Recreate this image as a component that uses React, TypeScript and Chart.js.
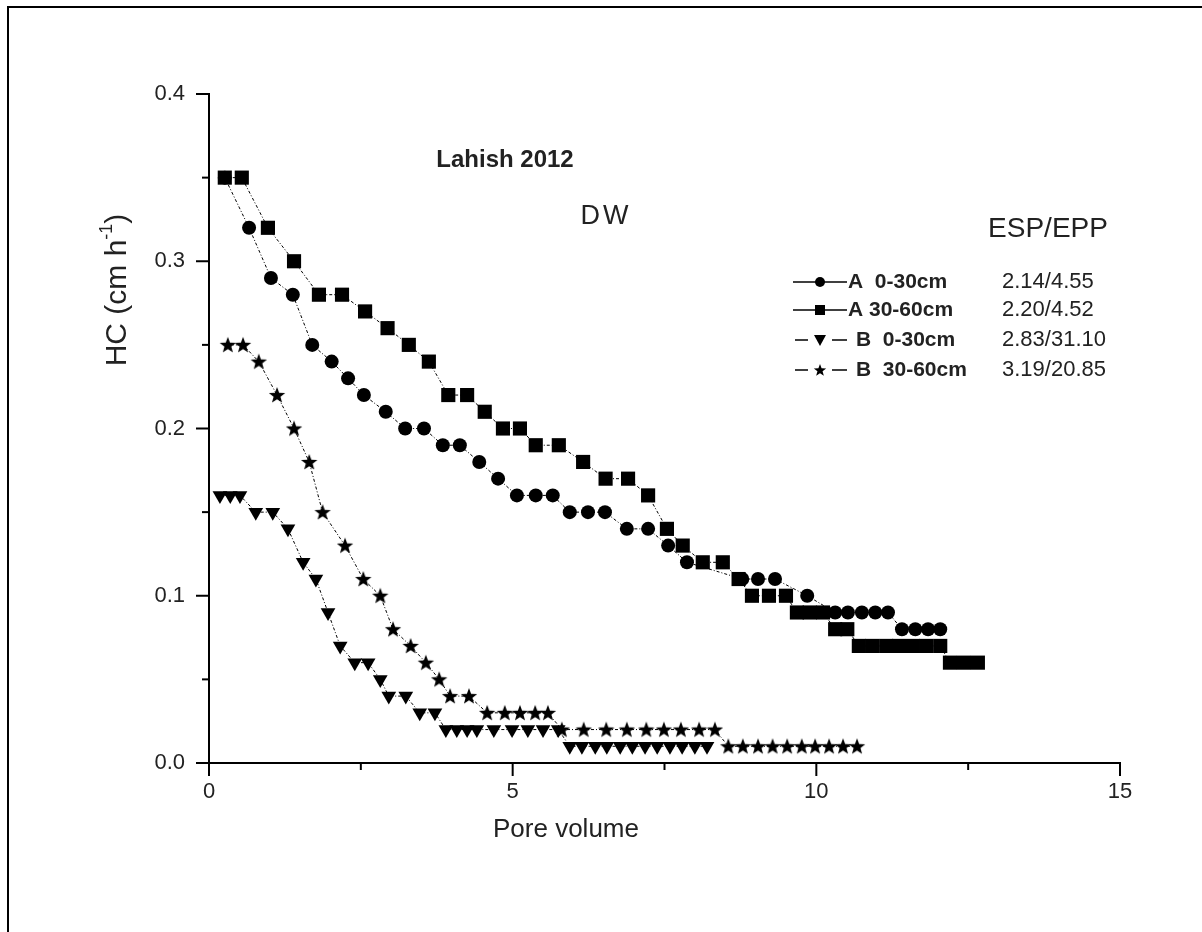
import React, { useEffect, useRef } from "react";
import { Chart, registerables } from "chart.js";

Chart.register(...registerables);

// ---- Data ----
const aTopX = [0.26, 0.66, 1.02, 1.38, 1.70, 2.02, 2.29, 2.55, 2.91, 3.23, 3.54, 3.85, 4.13, 4.45, 4.76, 5.07, 5.38, 5.66, 5.94, 6.24, 6.52, 6.88, 7.23, 7.56, 7.87, 8.78, 9.04, 9.32, 9.85, 10.31, 10.52, 10.75, 10.97, 11.18, 11.41, 11.63, 11.84, 12.04];
const aTopY = [0.35, 0.32, 0.29, 0.28, 0.25, 0.24, 0.23, 0.22, 0.21, 0.20, 0.20, 0.19, 0.19, 0.18, 0.17, 0.16, 0.16, 0.16, 0.15, 0.15, 0.15, 0.14, 0.14, 0.13, 0.12, 0.11, 0.11, 0.11, 0.10, 0.09, 0.09, 0.09, 0.09, 0.09, 0.08, 0.08, 0.08, 0.08];

const aSubX = [0.26, 0.54, 0.97, 1.40, 1.81, 2.19, 2.57, 2.94, 3.29, 3.62, 3.94, 4.25, 4.54, 4.84, 5.12, 5.38, 5.76, 6.16, 6.53, 6.90, 7.23, 7.54, 7.80, 8.13, 8.46, 8.72, 8.94, 9.22, 9.50, 9.68, 9.89, 10.11, 10.31, 10.51, 10.70, 10.92, 11.15, 11.36, 11.59, 11.81, 12.04, 12.20, 12.43, 12.66];
const aSubY = [0.35, 0.35, 0.32, 0.30, 0.28, 0.28, 0.27, 0.26, 0.25, 0.24, 0.22, 0.22, 0.21, 0.20, 0.20, 0.19, 0.19, 0.18, 0.17, 0.17, 0.16, 0.14, 0.13, 0.12, 0.12, 0.11, 0.10, 0.10, 0.10, 0.09, 0.09, 0.09, 0.08, 0.08, 0.07, 0.07, 0.07, 0.07, 0.07, 0.07, 0.07, 0.06, 0.06, 0.06];

const bTopX = [0.18, 0.35, 0.51, 0.77, 1.05, 1.30, 1.55, 1.76, 1.96, 2.16, 2.40, 2.62, 2.82, 2.96, 3.24, 3.47, 3.72, 3.90, 4.08, 4.25, 4.41, 4.69, 4.99, 5.25, 5.50, 5.75, 5.94, 6.14, 6.36, 6.55, 6.77, 6.97, 7.18, 7.38, 7.59, 7.79, 8.00, 8.20];
const bTopY = [0.16, 0.16, 0.16, 0.15, 0.15, 0.14, 0.12, 0.11, 0.09, 0.07, 0.06, 0.06, 0.05, 0.04, 0.04, 0.03, 0.03, 0.02, 0.02, 0.02, 0.02, 0.02, 0.02, 0.02, 0.02, 0.02, 0.01, 0.01, 0.01, 0.01, 0.01, 0.01, 0.01, 0.01, 0.01, 0.01, 0.01, 0.01];

const bSubX = [0.31, 0.56, 0.82, 1.12, 1.40, 1.65, 1.87, 2.24, 2.54, 2.82, 3.03, 3.32, 3.57, 3.79, 3.97, 4.28, 4.58, 4.87, 5.12, 5.37, 5.58, 5.81, 6.17, 6.54, 6.88, 7.20, 7.49, 7.77, 8.07, 8.33, 8.55, 8.79, 9.04, 9.28, 9.52, 9.76, 9.98, 10.21, 10.44, 10.67];
const bSubY = [0.25, 0.25, 0.24, 0.22, 0.20, 0.18, 0.15, 0.13, 0.11, 0.10, 0.08, 0.07, 0.06, 0.05, 0.04, 0.04, 0.03, 0.03, 0.03, 0.03, 0.03, 0.02, 0.02, 0.02, 0.02, 0.02, 0.02, 0.02, 0.02, 0.02, 0.01, 0.01, 0.01, 0.01, 0.01, 0.01, 0.01, 0.01, 0.01, 0.01];

const seriesLabels = ["A  0-30cm", "A 30-60cm", "B  0-30cm", "B  30-60cm"];
const seriesValues = ["2.14/4.55", "2.20/4.52", "2.83/31.10", "3.19/20.85"];
const xTickValues = [0, 5, 10, 15];
const yTickValues = [0, 0.1, 0.2, 0.3, 0.4];
const titleText = "Lahish 2012";
const subtitleText = "DW";
const legendHeader = "ESP/EPP";
const xTitle = "Pore volume";
const yTitleMain = "HC (cm h";
const yTitleSup = "-1";
const yTitleEnd = ")";

const FONT = "'Liberation Sans', Arial, sans-serif";
const TEXT = "#222";

function pts(xs: number[], ys: number[]) {
  return xs.map((x, i) => ({ x, y: ys[i] }));
}

function starPath(ctx: CanvasRenderingContext2D, cx: number, cy: number, ro: number, ri: number) {
  ctx.beginPath();
  for (let i = 0; i < 10; i++) {
    const r = i % 2 === 0 ? ro : ri;
    const a = -Math.PI / 2 + (i * Math.PI) / 5;
    const px = cx + r * Math.cos(a);
    const py = cy + r * Math.sin(a);
    if (i === 0) ctx.moveTo(px, py);
    else ctx.lineTo(px, py);
  }
  ctx.closePath();
}

function makeStar(): HTMLCanvasElement {
  const c = document.createElement("canvas");
  c.width = 18;
  c.height = 18;
  const g = c.getContext("2d")!;
  g.fillStyle = "#000";
  starPath(g, 9, 9.6, 8.6, 3.6);
  g.fill();
  return c;
}

function drawLegendMarker(ctx: CanvasRenderingContext2D, kind: number, x: number, y: number) {
  ctx.fillStyle = "#000";
  ctx.beginPath();
  if (kind === 0) {
    ctx.arc(x, y, 5, 0, Math.PI * 2);
    ctx.fill();
  } else if (kind === 1) {
    ctx.fillRect(x - 5, y - 5, 10, 10);
  } else if (kind === 2) {
    ctx.moveTo(x - 6, y - 5);
    ctx.lineTo(x + 6, y - 5);
    ctx.lineTo(x, y + 6);
    ctx.closePath();
    ctx.fill();
  } else {
    starPath(ctx, x, y + 0.5, 6.5, 2.7);
    ctx.fill();
  }
}

const decorPlugin = {
  id: "decor",
  afterDraw(chart: any) {
    const { ctx } = chart;
    const xs = chart.scales.x;
    const ys = chart.scales.y;
    ctx.save();
    // frame (top & left only visible in reference)
    ctx.strokeStyle = "#000";
    ctx.lineWidth = 2;
    ctx.beginPath();
    ctx.moveTo(8, 940);
    ctx.lineTo(8, 7);
    ctx.lineTo(1210, 7);
    ctx.stroke();

    // tick marks: major & minor
    ctx.lineWidth = 2;
    const x0 = xs.left;
    const yb = ys.bottom;
    for (let v = 0; v <= 0.4001; v += 0.05) {
      const p = ys.getPixelForValue(v);
      const major = Math.abs(Math.round(v * 10) - v * 10) < 1e-6;
      const len = major ? 13 : 7;
      ctx.beginPath();
      ctx.moveTo(x0 - len, p);
      ctx.lineTo(x0, p);
      ctx.stroke();
    }
    for (let v = 0; v <= 15.001; v += 2.5) {
      const p = xs.getPixelForValue(v);
      const major = Math.abs(v % 5) < 1e-6;
      const len = major ? 13 : 7;
      ctx.beginPath();
      ctx.moveTo(p, yb);
      ctx.lineTo(p, yb + len);
      ctx.stroke();
    }

    ctx.fillStyle = TEXT;
    ctx.textBaseline = "middle";
    // title texts
    ctx.textAlign = "center";
    ctx.font = `bold 24px ${FONT}`;
    ctx.fillText(titleText, 505, 160);
    ctx.font = `27px ${FONT}`;
    (ctx as any).letterSpacing = "3px";
    ctx.fillText(subtitleText, 606, 217);
    (ctx as any).letterSpacing = "0px";
    ctx.font = `28px ${FONT}`;
    ctx.fillText(legendHeader, 1048, 229);

    // legend
    const rowsY = [282, 310, 340, 370];
    const textX = [848, 848, 856, 856];
    for (let i = 0; i < 4; i++) {
      const y = rowsY[i];
      ctx.strokeStyle = "#000";
      ctx.lineWidth = 1.5;
      ctx.beginPath();
      if (i < 2) {
        ctx.moveTo(793, y);
        ctx.lineTo(847, y);
      } else {
        ctx.moveTo(795, y);
        ctx.lineTo(808, y);
        ctx.moveTo(832, y);
        ctx.lineTo(847, y);
      }
      ctx.stroke();
      drawLegendMarker(ctx, i, 820, y);
      ctx.fillStyle = TEXT;
      ctx.textAlign = "left";
      ctx.font = `bold 21px ${FONT}`;
      ctx.fillText(seriesLabels[i], textX[i], y);
      ctx.font = `22px ${FONT}`;
      ctx.fillText(seriesValues[i], 1002, y);
    }

    // x title
    ctx.textAlign = "center";
    ctx.font = `26px ${FONT}`;
    ctx.fillText(xTitle, 566, 830);

    // y title (rotated with superscript)
    ctx.save();
    ctx.translate(118, 290);
    ctx.rotate(-Math.PI / 2);
    ctx.textAlign = "left";
    ctx.font = `30px ${FONT}`;
    const w1 = ctx.measureText(yTitleMain).width;
    ctx.font = `18px ${FONT}`;
    const w2 = ctx.measureText(yTitleSup).width;
    ctx.font = `30px ${FONT}`;
    const w3 = ctx.measureText(yTitleEnd).width;
    const total = w1 + w2 + w3;
    let cx = -total / 2;
    ctx.fillText(yTitleMain, cx, 0);
    cx += w1;
    ctx.font = `18px ${FONT}`;
    ctx.fillText(yTitleSup, cx, -11);
    cx += w2;
    ctx.font = `30px ${FONT}`;
    ctx.fillText(yTitleEnd, cx, 0);
    ctx.restore();

    ctx.restore();
  },
};

export default function App() {
  const ref = useRef<HTMLCanvasElement | null>(null);

  useEffect(() => {
    document.body.style.margin = "0";
    document.body.style.overflow = "hidden";
    const canvas = ref.current!;
    const star = makeStar();
    const lineCommon = {
      showLine: true,
      borderColor: "#000",
      borderWidth: 1,
      borderDash: [3, 2, 1, 2],
      backgroundColor: "#000",
      pointBackgroundColor: "#000",
      pointBorderColor: "#000",
      pointBorderWidth: 0,
      tension: 0,
      fill: false,
    };
    const chart = new Chart(canvas, {
      type: "scatter",
      data: {
        datasets: [
          { ...lineCommon, label: seriesLabels[0], data: pts(aTopX, aTopY), pointStyle: "circle", pointRadius: 7, order: 1 },
          { ...lineCommon, label: seriesLabels[1], data: pts(aSubX, aSubY), pointStyle: "rect", pointRadius: 10, order: 0 },
          { ...lineCommon, label: seriesLabels[2], data: pts(bTopX, bTopY), pointStyle: "triangle", pointRotation: 180, pointRadius: 8.5, order: 3 },
          { ...lineCommon, label: seriesLabels[3], data: pts(bSubX, bSubY), pointStyle: star as any, pointRadius: 9, order: 2 },
        ],
      },
      options: {
        responsive: false,
        animation: false,
        events: [],
        layout: { padding: { left: 0, top: 94, right: 82, bottom: 0 } },
        plugins: { legend: { display: false }, tooltip: { enabled: false }, title: { display: false } },
        scales: {
          x: {
            type: "linear",
            min: 0,
            max: 15,
            afterFit: (s: any) => {
              s.height = 169;
            },
            afterBuildTicks: (s: any) => {
              s.ticks = xTickValues.map((v) => ({ value: v }));
            },
            ticks: { font: { family: FONT, size: 22 }, color: TEXT, padding: 16, maxRotation: 0, callback: (v: any) => String(v) },
            grid: { display: false, drawTicks: false },
            border: { display: true, color: "#000", width: 2 },
          },
          y: {
            min: 0,
            max: 0.4,
            afterFit: (s: any) => {
              s.width = 209;
            },
            afterBuildTicks: (s: any) => {
              s.ticks = yTickValues.map((v) => ({ value: v }));
            },
            ticks: { font: { family: FONT, size: 22 }, color: TEXT, padding: 24, callback: (v: any) => Number(v).toFixed(1) },
            grid: { display: false, drawTicks: false },
            border: { display: true, color: "#000", width: 2 },
          },
        },
      },
      plugins: [decorPlugin],
    } as any);
    return () => chart.destroy();
  }, []);

  return (
    <div style={{ position: "fixed", left: 0, top: 0, width: 1202, height: 932, background: "#fff" }}>
      <canvas ref={ref} width={1202} height={932} style={{ display: "block", width: 1202, height: 932 }} />
    </div>
  );
}
